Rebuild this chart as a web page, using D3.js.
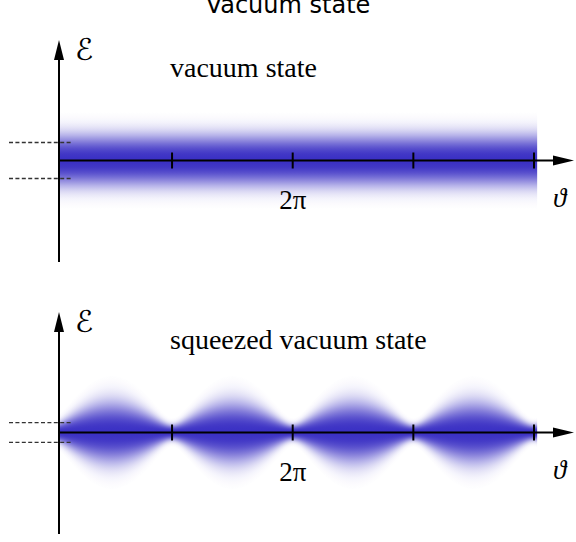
<!DOCTYPE html>
<html>
<head>
<meta charset="utf-8">
<script src="https://cdn.jsdelivr.net/npm/d3@7"></script>
<style>
  body { margin: 0; background: #fff; }
  svg { display: block; }
</style>
</head>
<body>
<svg width="576" height="542"></svg>
<script>
//data: one entry per panel
var panelNames = ["vacuum state", "squeezed vacuum state"];
var spreadMin = [1.4, 0.42];    // field spread where theta = k*pi
var spreadMax = [1.4, 1.65];    // field spread where theta = pi/2 + k*pi
var dashLevels = [1.0, 0.55];   // marked uncertainty, +/- around 0
var thetaTicks = [1, 2, 3, 4];  // multiples of pi
var tickLabels = ["", "2π", "", ""];
var thetaSpan = [0.063, 4.027]; // where the density is drawn, in pi

var svg = d3.select("svg"),
    width = +svg.attr("width"),
    height = +svg.attr("height"),
    axisX = 59,
    panelTop = [40, 312],
    peak = "#3b31c4",
    reach = 1.9; // gradient covers +/- reach * spread

var x = d3.scaleLinear()
    .domain([0, 4 * Math.PI])
    .range([51.4, 534]);

//white -> blue profile, stretched over each slice
var shade = d3.interpolateRgb("#ffffff", peak);
var grad = svg.append("defs").append("linearGradient")
    .attr("id", "gauss")
    .attr("x1", 0).attr("y1", 0).attr("x2", 0).attr("y2", 1);
grad.selectAll("stop")
  .data(d3.range(0, 1.0001, 0.02))
  .enter().append("stop")
    .attr("offset", function(o) { return o; })
    .attr("stop-color", function(o) {
      var d = Math.abs(o - 0.5) * 2 * reach;
      return shade(Math.exp(-Math.pow(d, 2.5)));
    });

//title, cut off at the top edge like the source
svg.append("text")
    .attr("x", 288).attr("y", 13)
    .attr("text-anchor", "middle")
    .style("font-family", "DejaVu Sans")
    .style("font-size", "24px")
    .text("Vacuum state");

panelNames.forEach(function(name, p) {
  var top = panelTop[p],
      axisY = top + 120.5;

  var y = d3.scaleLinear()
      .domain([-1, 1])
      .range([axisY + 18, axisY - 18]);

  var g = svg.append("g");

  //quadrature spread along theta
  function spread(t) {
    var c = Math.cos(t), s = Math.sin(t),
        a = spreadMin[p], b = spreadMax[p];
    return Math.sqrt(a * a * c * c + b * b * s * s);
  }

  //density slices, about one pixel wide
  var x0 = x(thetaSpan[0] * Math.PI),
      x1 = x(thetaSpan[1] * Math.PI),
      n = Math.round(x1 - x0);
  var slices = d3.range(n).map(function(i) {
    return x.invert(x0 + i + 0.5);
  });

  g.selectAll("rect.slice")
    .data(slices)
    .enter().append("rect")
      .attr("class", "slice")
      .attr("x", function(t) { return x(t) - 0.5; })
      .attr("width", 1.6)
      .attr("y", function(t) { return y(reach * spread(t)); })
      .attr("height", function(t) { return y(-reach * spread(t)) - y(reach * spread(t)); })
      .style("fill", "url(#gauss)");

  //cover the overlap at the right end
  g.append("rect")
      .attr("x", x1).attr("y", y(4)).attr("width", 4).attr("height", y(-4) - y(4))
      .style("fill", "#fff");

  //dashed uncertainty marks
  g.selectAll("line.dash")
    .data([dashLevels[p], -dashLevels[p]])
    .enter().append("line")
      .attr("x1", 9).attr("x2", 73)
      .attr("y1", function(d) { return y(d); })
      .attr("y2", function(d) { return y(d); })
      .style("stroke", "#333")
      .style("stroke-width", 1.3)
      .style("stroke-dasharray", "4,2.4");

  //vertical axis + arrow
  g.append("line")
      .attr("x1", axisX).attr("x2", axisX)
      .attr("y1", top + 12).attr("y2", top + 222)
      .style("stroke", "#000").style("stroke-width", 2);
  g.append("path")
      .attr("d", "M" + axisX + "," + top + "L" + (axisX + 5) + "," + (top + 20) +
                 "L" + (axisX - 5) + "," + (top + 20) + "Z")
      .style("fill", "#000");

  //horizontal axis + arrow
  g.append("line")
      .attr("x1", axisX).attr("x2", 556)
      .attr("y1", axisY).attr("y2", axisY)
      .style("stroke", "#000").style("stroke-width", 2);
  g.append("path")
      .attr("d", "M574," + axisY + "L553," + (axisY - 5) + "L553," + (axisY + 5) + "Z")
      .style("fill", "#000");

  //ticks at multiples of pi
  g.selectAll("line.tick")
    .data(thetaTicks)
    .enter().append("line")
      .attr("class", "tick")
      .attr("x1", function(d) { return x(d * Math.PI); })
      .attr("x2", function(d) { return x(d * Math.PI); })
      .attr("y1", axisY - 8).attr("y2", axisY + 8)
      .style("stroke", "#000").style("stroke-width", 2);

  g.selectAll("text.tlabel")
    .data(thetaTicks)
    .enter().append("text")
      .attr("class", "tlabel")
      .attr("x", function(d) { return x(d * Math.PI); })
      .attr("y", axisY + 48)
      .attr("text-anchor", "middle")
      .style("font-family", "Liberation Serif")
      .style("font-size", "27px")
      .text(function(d, i) { return tickLabels[i]; });

  //axis names
  g.append("text")
      .attr("x", 75).attr("y", top + 20)
      .style("font-family", "DejaVu Sans")
      .style("font-size", "30px")
      .text("ℰ");
  g.append("text")
      .attr("x", 553).attr("y", axisY + 46)
      .style("font-family", "Liberation Serif")
      .style("font-style", "italic")
      .style("font-size", "27px")
      .text("ϑ");

  g.append("text")
      .attr("x", 170).attr("y", top + 36.5)
      .style("font-family", "Liberation Serif")
      .style("font-size", "28px")
      .text(name);
});
</script>
</body>
</html>
